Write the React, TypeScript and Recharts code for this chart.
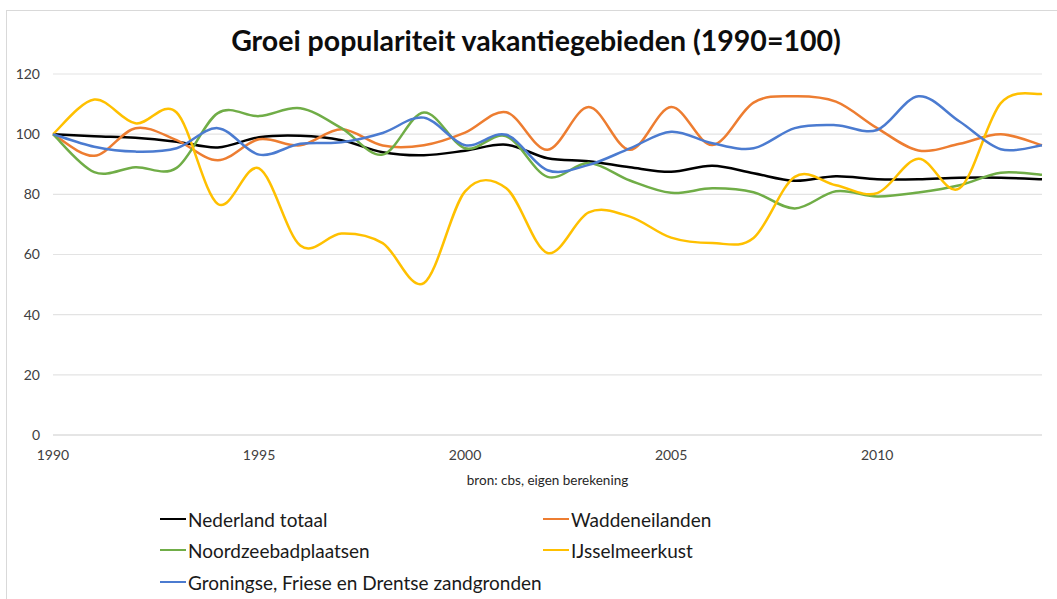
import { LineChart, Line, XAxis, YAxis, CartesianGrid } from "recharts";

const years = [
  1990, 1991, 1992, 1993, 1994, 1995, 1996, 1997, 1998, 1999, 2000, 2001, 2002,
  2003, 2004, 2005, 2006, 2007, 2008, 2009, 2010, 2011, 2012, 2013, 2014,
];

const nederlandTotaal = [
  100, 99.3, 98.8, 97.5, 95.6, 99, 99.5, 98, 94, 93, 94.5, 96.5, 92, 91, 89,
  87.5, 89.5, 87, 84.5, 86, 85, 85, 85.5, 85.5, 85,
];
const waddeneilanden = [
  100, 92.8, 102, 98, 91.3, 98.3, 96.3, 101.6, 96.2, 96.3, 100.5, 107.3, 94.8,
  109, 94.8, 109, 96.4, 110.5, 112.6, 110.8, 102, 94.6, 96.8, 100, 96.3,
];
const noordzeebadplaatsen = [
  100, 87.4, 89, 88.8, 107, 106, 108.6, 102, 93.2, 107.2, 95.3, 99.3, 85.8,
  90.4, 84.6, 80.5, 82, 80.7, 75.3, 81, 79.3, 80.6, 83, 87.2, 86.5,
];
const ijsselmeerkust = [
  100, 111.5, 103.6, 107.2, 76.8, 88.6, 63, 67, 63.8, 50.5, 81, 82, 60.5, 74,
  72.6, 65.6, 63.8, 65.5, 85.8, 83, 80.4, 91.8, 82, 110.3, 113.4,
];
const groningse = [
  100, 95.8, 94.2, 95.3, 102, 93.2, 96.8, 97.3, 100.4, 105.5, 96.3, 99.8, 88,
  89.8, 95.3, 100.8, 97, 95.3, 102, 103, 101.4, 112.6, 104.2, 95, 96.3,
];

const yTicks = [0, 20, 40, 60, 80, 100, 120];
const xTicks = [1990, 1995, 2000, 2005, 2010];

const series = [
  { key: "nederland", name: "Nederland totaal", color: "#000000", values: nederlandTotaal },
  { key: "wadden", name: "Waddeneilanden", color: "#ED7D31", values: waddeneilanden },
  { key: "noordzee", name: "Noordzeebadplaatsen", color: "#70AD47", values: noordzeebadplaatsen },
  { key: "ijssel", name: "IJsselmeerkust", color: "#FFC000", values: ijsselmeerkust },
  { key: "groningse", name: "Groningse, Friese en Drentse zandgronden", color: "#4B7BD0", values: groningse },
];

const data = years.map((year, i) => {
  const row: Record<string, number> = { year };
  series.forEach((s) => (row[s.key] = s.values[i]));
  return row;
});

// Excel-style smoothed line (uniform Catmull-Rom through every point)
const excelSmooth = (context: any) => {
  let pts: [number, number][] = [];
  return {
    areaStart() {},
    areaEnd() {},
    lineStart() {
      pts = [];
    },
    lineEnd() {
      if (!pts.length) return;
      context.moveTo(pts[0][0], pts[0][1]);
      for (let i = 0; i < pts.length - 1; i++) {
        const p0 = pts[Math.max(i - 1, 0)];
        const p1 = pts[i];
        const p2 = pts[i + 1];
        const p3 = pts[Math.min(i + 2, pts.length - 1)];
        context.bezierCurveTo(
          p1[0] + (p2[0] - p0[0]) / 6,
          p1[1] + (p2[1] - p0[1]) / 6,
          p2[0] - (p3[0] - p1[0]) / 6,
          p2[1] - (p3[1] - p1[1]) / 6,
          p2[0],
          p2[1]
        );
      }
    },
    point(x: number, y: number) {
      pts.push([+x, +y]);
    },
  };
};

const font = "Lato, 'Open Sans', sans-serif";

function LegendItem({ name, color, x, y }: { name: string; color: string; x: number; y: number }) {
  return (
    <div style={{ position: "absolute", left: x, top: y - 12, display: "flex", alignItems: "center", height: 24 }}>
      <span style={{ display: "inline-block", width: 26, height: 2.5, background: color, marginRight: 2 }} />
      <span style={{ fontSize: 19, color: "#1a1a1a", whiteSpace: "nowrap" }}>{name}</span>
    </div>
  );
}

export default function App() {
  const legendPos = [
    { x: 160, y: 519 },
    { x: 543, y: 519 },
    { x: 160, y: 550 },
    { x: 543, y: 550 },
    { x: 160, y: 582 },
  ];
  return (
    <div style={{ position: "absolute", left: 0, top: 0, width: 1057, height: 599, background: "#fff", fontFamily: font, overflow: "hidden" }}>
      <div style={{ position: "absolute", left: 6, top: 10, width: 1051, height: 589, borderLeft: "1px solid #d9d9d9", borderTop: "1px solid #d9d9d9" }} />
      <div style={{ position: "absolute", left: 0, width: 1072, top: 23, textAlign: "center", fontSize: 28.5, fontWeight: 700, color: "#0d0d0d" }}>
        Groei populariteit vakantiegebieden (1990=100)
      </div>
      <div style={{ position: "absolute", left: 0, top: 0 }}>
        <LineChart width={1057} height={599} data={data} margin={{ top: 74, right: 15, bottom: 114, left: 0 }}>
          <CartesianGrid vertical={false} stroke="#e3e3e3" strokeWidth={1.2} />
          <XAxis
            dataKey="year"
            type="number"
            domain={[1990, 2014]}
            ticks={xTicks}
            tickLine={false}
            axisLine={{ stroke: "#d9d9d9" }}
            height={50}
            tick={{ fontSize: 14, fill: "#404040", fontFamily: font }}
            tickMargin={9}
            label={{ value: "bron: cbs, eigen berekening", position: "insideBottom", offset: 0, fontSize: 13.5, fill: "#262626", fontFamily: font }}
          />
          <YAxis
            domain={[0, 120]}
            ticks={yTicks}
            axisLine={false}
            tickLine={false}
            width={53}
            tickMargin={7}
            tick={{ fontSize: 14, fill: "#404040", fontFamily: font }}
          />
          {series.map((s) => (
            <Line
              key={s.key}
              dataKey={s.key}
              name={s.name}
              type={excelSmooth as any}
              stroke={s.color}
              strokeWidth={2.5}
              dot={false}
              isAnimationActive={false}
            />
          ))}
        </LineChart>
      </div>
      {series.map((s, i) => (
        <LegendItem key={s.key} name={s.name} color={s.color} x={legendPos[i].x} y={legendPos[i].y} />
      ))}
    </div>
  );
}
